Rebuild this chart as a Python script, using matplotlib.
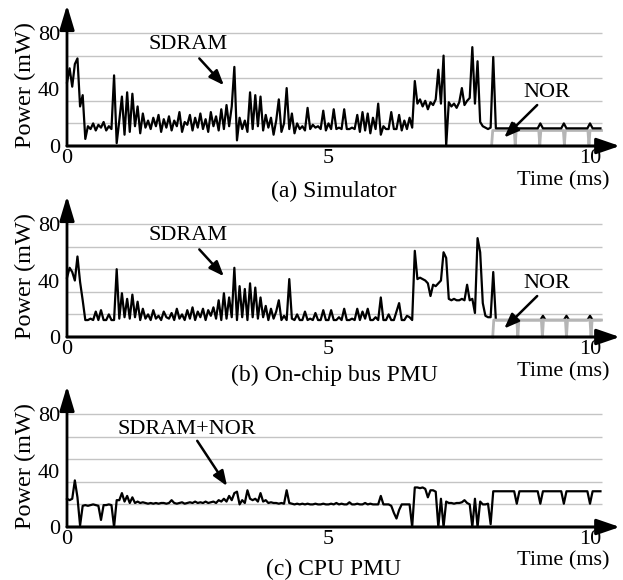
import matplotlib
matplotlib.use('Agg')
import matplotlib.pyplot as plt
import numpy as np

plt.rcParams['font.family'] = ['Liberation Serif', 'DejaVu Serif']

# sampling step of the power traces (ms)
DT = 0.05

# (a) simulator, SDRAM power (mW)
sdram_sim = [
    45, 55, 42, 58, 62, 28, 36, 5, 14, 12, 16, 11, 15, 13, 17, 11, 14, 12, 50, 2,
    18, 35, 8, 38, 10, 37, 14, 28, 9, 23, 13, 18, 12, 20, 14, 22, 10, 19, 13, 21,
    11, 18, 14, 24, 10, 17, 15, 22, 11, 20, 13, 23, 12, 19, 10, 24, 14, 21, 11, 26,
    12, 29, 14, 28, 56, 4, 20, 12, 18, 10, 38, 12, 36, 14, 35, 11, 22, 13, 20, 8,
    18, 33, 10, 16, 41, 12, 23, 9, 16, 12, 14, 11, 27, 12, 15, 13, 14, 12, 25, 11,
    16, 12, 26, 12, 13, 12, 26, 12, 12, 13, 12, 22, 10, 24, 11, 23, 9, 20, 12, 30,
    8, 14, 12, 12, 24, 12, 12, 22, 11, 18, 12, 20, 13, 46, 30, 33, 28, 32, 26, 31,
    29, 33, 54, 30, 64, 0, 31, 28, 30, 27, 31, 41, 29, 32, 34, 70, 30, 60, 17, 14,
    13, 12, 13, 63, 12.5, 12.5, 12.5, 12.5, 12.5, 12.5, 12.5, 16, 12.5, 12.5, 12.5, 12.5, 12.5, 12.5, 12.5, 12.5,
    12.5, 16, 12.5, 12.5, 12.5, 12.5, 12.5, 12.5, 12.5, 12.5, 16, 12.5, 12.5, 12.5, 12.5, 12.5, 12.5, 12.5, 12.5, 12.5,
    16, 12.5, 12.5, 12.5, 12.5,
]
nor_sim_t = [8.12, 8.14, 8.55, 8.57, 8.59, 9.02, 9.04, 9.06, 9.49, 9.51, 9.53, 9.96, 9.98, 10.00, 10.22]
nor_sim = [1, 11, 11, 1, 11, 11, 1, 11, 11, 1, 11, 11, 1, 11, 11]

# (b) on-chip bus PMU, SDRAM power (mW)
sdram_bus = [
    42, 49, 46, 40, 57, 39, 26, 12, 12, 13, 12, 18, 12, 19, 12, 12, 16, 12, 12, 48,
    13, 31, 14, 27, 13, 30, 14, 25, 12, 20, 13, 16, 12, 19, 13, 15, 12, 18, 14, 13,
    17, 12, 20, 13, 16, 12, 19, 13, 21, 12, 18, 14, 20, 12, 19, 15, 21, 13, 26, 12,
    31, 13, 28, 14, 49, 12, 36, 14, 34, 12, 38, 14, 35, 13, 28, 14, 22, 12, 20, 13,
    18, 26, 12, 15, 12, 41, 13, 12, 16, 12, 12, 18, 12, 13, 12, 17, 12, 12, 19, 12,
    12, 19, 12, 12, 14, 12, 20, 12, 12, 13, 12, 20, 12, 18, 13, 20, 12, 12, 14, 12,
    28, 12, 12, 16, 12, 12, 18, 24, 12, 12, 15, 14, 12, 61, 41, 42, 41, 40, 38, 29,
    37, 36, 38, 40, 60, 56, 27, 26, 27, 26, 26, 27, 26, 37, 26, 27, 17, 70, 60, 24,
    15, 14, 14, 46, 12, 12, 12, 12, 12, 12, 12, 12, 12, 12, 12, 12, 12, 12, 12, 12,
    12, 12, 15, 12, 12, 12, 12, 12, 12, 12, 12, 15, 12, 12, 12, 12, 12, 12, 12, 12,
    15, 12, 12, 12, 12,
]
nor_bus_t = [8.14, 8.16, 8.60, 8.62, 8.64, 9.07, 9.09, 9.11, 9.53, 9.55, 9.57, 10.00, 10.02, 10.04, 10.22]
nor_bus = [0, 12, 12, 0, 12, 12, 0, 12, 12, 0, 12, 12, 0, 12, 12]

# (c) CPU PMU, SDRAM+NOR power (mW)
cpu_pmu = [
    20, 19, 20, 33, 21, 1, 15, 15.5, 15, 15.5, 16, 15.5, 15, 5, 15.5, 15.5, 16, 15.5, 0, 19,
    19, 24, 18, 22, 17, 21, 17, 18, 17, 17.5, 17, 16.5, 17, 16.5, 17, 16.5, 17, 17, 16.5, 17,
    19, 17, 16.5, 17, 17.5, 16.5, 17, 17.5, 17, 18, 17, 17.5, 17, 18, 17, 17.5, 18, 17, 19, 18,
    20, 18, 22, 19, 24, 25, 16, 19, 17, 26, 20, 19, 20, 18, 24, 18, 19, 17, 17.5, 17,
    17, 16.5, 17, 16.5, 26, 17, 16.5, 16, 16.5, 16, 16.5, 16, 16.5, 16, 16, 16.5, 16, 16, 16.5, 16,
    16, 16.5, 16, 17, 16, 16.5, 16, 16, 17.5, 16, 16, 16.5, 16, 16, 17, 16, 16.5, 16, 16, 16,
    22, 16, 16, 16, 15, 10, 6, 12, 16, 16, 16, 16, 0, 28, 28, 27.5, 28, 27, 21, 26,
    26, 25, 0, 20, 0, 18, 17, 17, 16.5, 17, 17, 17.5, 19, 17, 16, 0, 20, 0, 18, 16,
    16, 16.5, 2, 25.3, 25.3, 25.3, 25.3, 25.3, 25.3, 25.3, 25.3, 25.3, 16.5, 25.3, 25.3, 25.3, 25.3, 25.3, 25.3, 25.3,
    25.3, 16.5, 25.3, 25.3, 25.3, 25.3, 25.3, 25.3, 25.3, 25.3, 16.5, 25.3, 25.3, 25.3, 25.3, 25.3, 25.3, 25.3, 25.3, 25.3,
    16.5, 25.3, 25.3, 25.3, 25.3,
]

grid_vals = [16, 32, 48, 64, 80]
x_ticks = [0, 5, 10]
y_ticks = [0, 40, 80]
captions = ['(a) Simulator', '(b) On-chip bus PMU', '(c) CPU PMU']

W, H = 623, 580
PX_MS = 52.3      # px per ms
PX_MW = 1.4125    # px per mW
FS = 16

fig = plt.figure(figsize=(W / 100, H / 100), dpi=100)


def ftext(x, y, s, **kw):
    fig.text(x / W, 1 - y / H, s, **kw)


def make_axes(y0):
    ax = fig.add_axes([67 / W, (H - y0) / H, (W - 67) / W, 142 / H])
    ax.set_xlim(0, (W - 67) / PX_MS)
    ax.set_ylim(0, 142 / PX_MW)
    for s in ax.spines.values():
        s.set_visible(False)
    ax.hlines(grid_vals, 0, 10.23, color='#c4c4c4', lw=1, zorder=1)
    ax.set_xticks(x_ticks)
    ax.set_yticks(y_ticks)
    ax.tick_params(length=0, labelsize=FS)
    ax.tick_params(axis='x', pad=2)
    ax.tick_params(axis='y', pad=5)
    ax.set_facecolor('none')
    # axis arrows
    ax.annotate('', xy=(0, 99.8), xytext=(0, 0),
                arrowprops=dict(arrowstyle='-|>,head_length=1.5,head_width=0.45',
                                color='black', lw=2, shrinkA=0, shrinkB=0),
                annotation_clip=False, zorder=6)
    ax.annotate('', xy=(10.57, 0), xytext=(0, 0),
                arrowprops=dict(arrowstyle='-|>,head_length=1.4,head_width=0.48',
                                color='black', lw=2.2, shrinkA=0, shrinkB=0),
                annotation_clip=False, zorder=6)
    return ax


def note(ax, s, xy, xytext, tpos):
    ax.annotate('', xy=xy, xytext=xytext,
                arrowprops=dict(arrowstyle='-|>,head_length=0.9,head_width=0.35',
                                color='black', lw=1.8, shrinkA=0, shrinkB=0), zorder=7)
    ax.text(tpos[0], tpos[1], s, fontsize=FS, ha='center', va='center', zorder=7)


panels = [
    (146, sdram_sim, nor_sim_t, nor_sim, 2),
    (337, sdram_bus, nor_bus_t, nor_bus, 4),
    (527, cpu_pmu, None, None, None),
]
time_base = [185, 376, 565]
cap_base = [197, 381, 575]

for i, (y0, trace, nt, nv, nz) in enumerate(panels):
    ax = make_axes(y0)
    t = np.arange(len(trace)) * DT
    ax.plot(t, trace, color='black', lw=1.6, zorder=3, clip_on=False)
    if nt is not None:
        ax.plot(nt, nv, color='#b5b5b5', lw=2.0, zorder=nz, clip_on=False)
    ftext(25, y0 - 61, 'Power (mW)', fontsize=17.5, rotation=90, ha='center', va='center')
    ftext(563, time_base[i], 'Time (ms)', fontsize=FS, ha='center', va='baseline')
    ftext(334, cap_base[i], captions[i], fontsize=17, ha='center', va='baseline')
    if i < 2:
        note(ax, 'SDRAM', (3.0, 43), (2.53, 62), (2.31, 72))
        note(ax, 'NOR', (8.36, 6), (8.99, 29), (9.18, 38))
    else:
        note(ax, 'SDRAM+NOR', (3.06, 29), (2.49, 61), (2.29, 69))

fig.savefig('out.png', dpi=100)
